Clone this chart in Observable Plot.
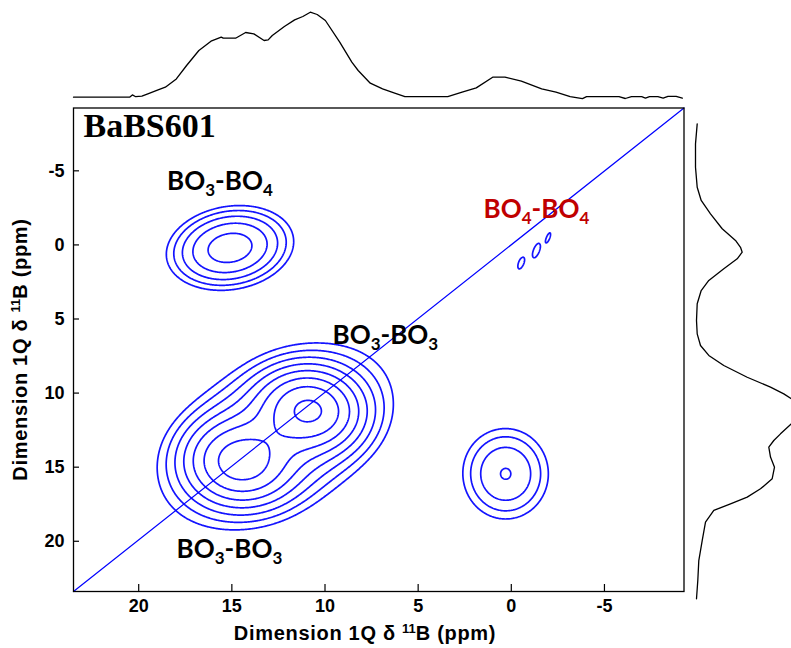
<!DOCTYPE html>
<html><head><meta charset="utf-8">
<script src="https://cdn.jsdelivr.net/npm/d3@7"></script>
<script src="https://cdn.jsdelivr.net/npm/@observablehq/plot@0.6"></script>
<style>
html,body{margin:0;padding:0;background:#fff;overflow:hidden;}
#chart{position:relative;width:791px;height:648px;overflow:hidden;}
#chart svg{position:absolute;top:0;}
.axlab{position:absolute;font-family:"Liberation Sans",Arial,sans-serif;font-weight:bold;font-size:20px;line-height:20px;letter-spacing:0.7px;color:#000;white-space:nowrap;text-align:center;width:400px;}
.axlab sup{font-size:13px;vertical-align:0;position:relative;top:-7px;letter-spacing:0;}
</style></head><body><div id="chart"></div>
<script>
// ---- axes ----
const xDomain = [23.5, -9.27];          // left -> right (ppm)
const yDomain = [-9.24, 23.39];         // top -> bottom (ppm)
const xTicks = [20, 15, 10, 5, 0, -5];
const yTicks = [-5, 0, 5, 10, 15, 20];
const titleText = ["BaBS601"];
const axisLabelHTML = "Dimension 1Q δ <sup>11</sup>B (ppm)";

// ---- top projection (ppm, intensity) ----
const topPpm = [23.5, 20.49, 20.34, 20.16, 19.83, 19.51, 18.96, 18.57, 17.98, 17.43, 16.77, 16.12, 15.57, 15.46, 14.8, 14.26, 13.82, 13.27, 13.05, 12.83, 12.18, 11.63, 11.19, 10.79, 10.42, 9.98, 9.21, 8.56, 8.22, 7.57, 6.91, 6.26, 5.71, 3.41, 2.64, 1.88, 1.0, 0.34, -0.54, -1.63, -2.4, -3.16, -3.82, -4.04, -5.78, -6.12, -6.45, -7.0, -7.2, -7.42, -7.87, -8.15, -8.41, -8.85, -9.18];
const topInt = [0, 0, 2.3, 0.5, 1, 3.3, 7.3, 10, 18.3, 31.7, 46.7, 56, 60, 59, 59, 64.7, 63.3, 56.7, 57.3, 61.7, 70.7, 77.3, 80.7, 85, 82.7, 76.7, 55, 35, 26.7, 14, 8.3, 4, 0.5, 0.5, 5, 9.3, 20, 20, 16, 8.3, 5, 0.5, -1.5, 0.5, 0.5, -1.3, 0.5, 0.5, -1, 0.5, 0.5, -1, 0.8, 0.8, -1];

// ---- right projection (ppm, intensity) ----
const sidePpm = [-8.17, -6.82, -5.24, -3.89, -3.0, -2.1, -1.09, -0.3, 0.16, 0.49, 0.94, 1.61, 2.4, 3.08, 3.97, 5.1, 6.0, 6.79, 7.46, 8.14, 8.93, 9.6, 10.05, 10.39, 11.2, 12.07, 12.75, 13.2, 13.65, 14.32, 15.0, 15.78, 16.46, 17.02, 17.47, 17.92, 18.71, 19.95, 21.3, 22.65, 23.88];
const sideInt = [0.7, -1, -1, 0.7, 4.7, 14, 25.7, 39, 44, 45.7, 40.7, 27.3, 12.3, 4.7, 0.7, 0, 0.7, 4, 12.3, 27.3, 50.7, 74, 87.3, 95, 115, 95, 84, 77.3, 72.3, 74, 78, 75.7, 64, 50.7, 34, 17.3, 9, 5.7, 2.3, 1.3, 0];

// ---- 2D peaks ----
const peakX     = [12.62, 10.8, 14.6, 15.1, 0.3, -0.52, -1.35, -2.0];
const peakY     = [12.9, 11.1, 14.7, 0.2, 15.45, 1.23, 0.38, -0.52];
const peakAmp   = [4, 8, 6, 4.6, 2.78, 1.3, 1.3, 1.2];
const peakSigA  = [4.3, 1.5, 1.6, 2.0, 1.6, 0.55, 0.69, 0.46];
const peakSigB  = [2.8, 1.6, 1.7, 1.58, 2.13, 0.19, 0.22, 0.12];
const peakAngle = [45, 45, 45, 20, 0, 75, 75, 75];
const contourLevels = [1, 1.4, 1.96, 2.74, 3.84, 5.38, 7.53, 10.54, 14.76];

// ---- peak labels ----
const labelText  = ["BO3-BO4", "BO4-BO4", "BO3-BO3", "BO3-BO3"];
const labelX     = [15.64, -1.35, 6.76, 15.13];
const labelY     = [-4.28, -2.39, 6.11, 20.55];
const labelColor = ["#000000", "#c00000", "#000000", "#000000"];

(function () {
const W = 791, H = 648;
const mL = 73, mR = 107.5, mT = 107.5, mB = 57;
const frameW = W - mL - mR, frameH = H - mT - mB;

const cosA = peakAngle.map(a => Math.cos(a * Math.PI / 180));
const sinA = peakAngle.map(a => Math.sin(a * Math.PI / 180));
function spectrum(x, y) {
  let s = 0;
  for (let i = 0; i < peakAmp.length; i++) {
    const dx = x - peakX[i], dy = y - peakY[i];
    const a = dx * cosA[i] + dy * sinA[i];
    const b = -dx * sinA[i] + dy * cosA[i];
    s += peakAmp[i] * Math.exp(-0.5 * (a * a / (peakSigA[i] ** 2) + b * b / (peakSigB[i] ** 2)));
  }
  return s;
}

// sample the spectrum on a grid and trace iso-lines with d3.contours
const nx = 700, ny = 700;
const gxToPpm = g => xDomain[0] + (xDomain[1] - xDomain[0]) * g / (nx - 1);
const gyToPpm = g => yDomain[0] + (yDomain[1] - yDomain[0]) * g / (ny - 1);
const grid = new Float64Array(nx * ny);
for (let j = 0; j < ny; j++) {
  const y = gyToPpm(j);
  for (let i = 0; i < nx; i++) grid[i + j * nx] = spectrum(gxToPpm(i), y);
}
const contourPts = [];
let ringId = 0;
for (const c of d3.contours().size([nx, ny]).thresholds(contourLevels)(grid)) {
  for (const poly of c.coordinates) for (const ring of poly) {
    ringId++;
    for (const [gx, gy] of ring) contourPts.push({x: gxToPpm(gx - 0.5), y: gyToPpm(gy - 0.5), id: ringId});
  }
}

const labels = labelText.map((t, i) => ({t, x: labelX[i], y: labelY[i], c: labelColor[i]}));
const diag = [[xDomain[0], yDomain[1]], [xDomain[1], yDomain[0]]];
const styleBase = {background: "transparent", fontFamily: "Liberation Sans, Arial, sans-serif"};

const mainPlot = Plot.plot({
  width: W, height: H,
  marginLeft: mL, marginRight: mR, marginTop: mT, marginBottom: mB,
  style: styleBase,
  x: {domain: xDomain, label: null},
  y: {domain: [yDomain[1], yDomain[0]], label: null},
  marks: [
    Plot.line(contourPts, {x: "x", y: "y", z: "id", stroke: "#1414ff", strokeWidth: 1.7, curve: "linear"}),
    Plot.line(diag, {x: d => d[0], y: d => d[1], stroke: "#0000ff", strokeWidth: 1.2}),
    Plot.frame({stroke: "black", strokeWidth: 1.3}),
    Plot.tickX(xTicks, {x: d => d, stroke: "black", strokeWidth: 1.2, insetTop: frameH - 7}),
    Plot.tickY(yTicks, {y: d => d, stroke: "black", strokeWidth: 1.2, insetRight: frameW - 6}),
    Plot.axisX({ticks: xTicks, tickSize: 0, tickPadding: 8, fontSize: 18, fontWeight: "bold", tickFormat: d => String(d), label: null}),
    Plot.axisY({ticks: yTicks, tickSize: 0, tickPadding: 9, fontSize: 18, fontWeight: "bold", tickFormat: d => String(d), label: null}),
    Plot.text(titleText, {text: d => d, frameAnchor: "top-left", dx: 10, dy: 5, lineAnchor: "top", textAnchor: "start", fontFamily: "Liberation Serif, Times New Roman, serif", fontWeight: "bold", fontSize: 34}),
    Plot.text(labels, {x: "x", y: "y", text: "t", fill: "c", fontFamily: "Lato, sans-serif", fontWeight: "bold", fontSize: 26, textAnchor: "middle", lineAnchor: "middle"})
  ]
});
mainPlot.style.left = "0px";

const topPlot = Plot.plot({
  width: W, height: 108,
  marginLeft: mL, marginRight: mR, marginTop: 0, marginBottom: 108 - 96.7,
  style: styleBase,
  x: {domain: xDomain, axis: null},
  y: {domain: [0, 96.7], axis: null},
  marks: [Plot.line(topPpm.map((p, i) => [p, topInt[i]]), {x: d => d[0], y: d => d[1], stroke: "black", strokeWidth: 1.3})]
});
topPlot.style.left = "0px";

const sidePlot = Plot.plot({
  width: 108, height: H,
  marginLeft: 13, marginRight: 0, marginTop: mT, marginBottom: mB,
  style: styleBase,
  x: {domain: [0, 95], axis: null},
  y: {domain: [yDomain[1], yDomain[0]], axis: null},
  marks: [Plot.line(sidePpm.map((p, i) => [p, sideInt[i]]), {x: d => d[1], y: d => d[0], stroke: "black", strokeWidth: 1.3})]
});
sidePlot.style.left = "683px";

const chart = document.getElementById("chart");
chart.appendChild(mainPlot);
chart.appendChild(topPlot);
chart.appendChild(sidePlot);

// subscripts for peak labels
const NS = "http://www.w3.org/2000/svg";
mainPlot.querySelectorAll("text").forEach(t => {
  const s = t.textContent;
  if (!/^BO\d-BO\d$/.test(s)) return;
  t.textContent = "";
  let prevDigit = false;
  for (const part of s.match(/\d+|\D+/g)) {
    const ts = document.createElementNS(NS, "tspan");
    ts.textContent = part;
    const isDigit = /\d/.test(part);
    if (isDigit) { ts.setAttribute("font-size", "17"); ts.setAttribute("dy", "6"); }
    else if (prevDigit) { ts.setAttribute("dy", "-6"); }
    prevDigit = isDigit;
    t.appendChild(ts);
  }
});

// axis titles
const xl = document.createElement("div");
xl.className = "axlab"; xl.innerHTML = axisLabelHTML;
xl.style.left = (365 - 200) + "px"; xl.style.top = "623px";
chart.appendChild(xl);
const yl = document.createElement("div");
yl.className = "axlab"; yl.innerHTML = axisLabelHTML;
yl.style.left = (21 - 200) + "px"; yl.style.top = (348 - 10) + "px";
yl.style.transform = "rotate(-90deg)";
chart.appendChild(yl);
})();
</script></body></html>
